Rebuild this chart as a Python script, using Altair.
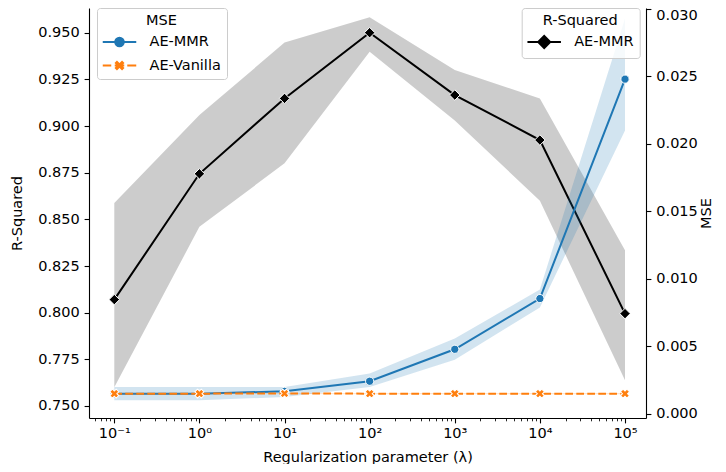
import math
import altair as alt
import pandas as pd

# ---------------- data ----------------
lambdas = [0.1, 1, 10, 100, 1000, 10000, 100000]
lambda_labels = ["10⁻¹", "10⁰", "10¹", "10²", "10³", "10⁴", "10⁵"]

r2_mmr = [0.807, 0.8744, 0.9148, 0.9500, 0.9166, 0.8925, 0.7995]
r2_mmr_low = [0.760, 0.846, 0.880, 0.9398, 0.903, 0.860, 0.7638]
r2_mmr_high = [0.8588, 0.9059, 0.9447, 0.9583, 0.930, 0.9148, 0.8335]

mse_mmr = [0.00148, 0.00148, 0.00165, 0.00240, 0.00477, 0.00853, 0.02480]
mse_mmr_low = [0.00099, 0.00099, 0.00123, 0.00197, 0.00400, 0.00787, 0.02100]
mse_mmr_high = [0.00197, 0.00197, 0.00197, 0.00297, 0.00556, 0.00920, 0.02930]

mse_vanilla = [0.00148, 0.00148, 0.00149, 0.00148, 0.00148, 0.00148, 0.00148]
mse_vanilla_low = [0.00144, 0.00144, 0.00145, 0.00144, 0.00144, 0.00144, 0.00144]
mse_vanilla_high = [0.00152, 0.00152, 0.00153, 0.00152, 0.00152, 0.00152, 0.00152]

series_names = ["AE-MMR", "AE-Vanilla"]
r2_ticks = [0.750, 0.775, 0.800, 0.825, 0.850, 0.875, 0.900, 0.925, 0.950]
mse_ticks = [0.000, 0.005, 0.010, 0.015, 0.020, 0.025, 0.030]

# ---------------- tables ----------------
r2_df = pd.DataFrame({
    "lam": lambdas, "r2": r2_mmr, "r2_lo": r2_mmr_low, "r2_hi": r2_mmr_high,
    "series": [series_names[0]] * len(lambdas),
})
mse_df = pd.concat([
    pd.DataFrame({"lam": lambdas, "mse": mse_mmr, "mse_lo": mse_mmr_low,
                  "mse_hi": mse_mmr_high, "series": series_names[0]}),
    pd.DataFrame({"lam": lambdas, "mse": mse_vanilla, "mse_lo": mse_vanilla_low,
                  "mse_hi": mse_vanilla_high, "series": series_names[1]}),
], ignore_index=True)

# ---------------- styling ----------------
FONT = "DejaVu Sans"
FS = 14.5
BLUE = "#1f77b4"
ORANGE = "#ff7f0e"
W, H = 557, 410

x_lo, x_hi = 10 ** -1.2972, 10 ** 5.2467
major = list(lambdas)
minor = []
for k in range(-2, 6):
    for m in range(2, 10):
        v = m * 10 ** k
        if x_lo <= v <= x_hi:
            minor.append(float(f"{v:.6g}"))
x_tick_values = sorted(major + minor)
major_test = "indexof([" + ",".join(str(v) for v in major) + "], datum.value) >= 0"
label_expr = " : ".join(f"datum.value == {v} ? '{l}'" for v, l in zip(major, lambda_labels)) + " : ''"

x_enc = alt.X(
    "lam:Q",
    scale=alt.Scale(type="log", domain=[x_lo, x_hi], nice=False),
    axis=alt.Axis(
        values=x_tick_values, labelExpr=label_expr, labelOverlap=False, labelFlush=False,
        tickSize={"condition": {"test": major_test, "value": 4.9}, "value": 2.8},
        tickWidth={"condition": {"test": major_test, "value": 1.1}, "value": 0.85},
        labelPadding=4, titlePadding=10, title="Regularization parameter (λ)",
    ),
)

r2_scale = alt.Scale(domain=[0.74357, 0.96324], nice=False, zero=False)
r2_axis = alt.Axis(orient="left", values=r2_ticks, format=".3f", title="R-Squared",
                   tickSize=4.9, tickWidth=1.1, labelPadding=4.9, titlePadding=13)
mse_scale = alt.Scale(domain=[-0.000326, 0.030074], nice=False, zero=False)
mse_axis = alt.Axis(orient="right", values=mse_ticks, format=".3f", title="MSE",
                    tickSize=4.9, tickWidth=1.1, labelPadding=4.9, titlePadding=2,
                    titleAngle=270, titleBaseline="top", labelFlush=3)

# ---------------- legend symbol paths (line + marker) ----------------
S = 8.0          # px per path unit for symbolSize 256
HALF = 16.75     # half length of the legend line in px


def u(px):
    return f"{px / S:.4f}"


def circle_path(r):
    return f"M{u(r)},0A{u(r)},{u(r)} 0 1,1 {u(-r)},0A{u(r)},{u(r)} 0 1,1 {u(r)},0Z"


def diamond_path(r):
    return f"M{u(-r)},0L0,{u(-r)}L{u(r)},0L0,{u(r)}Z"


def x_path(a, t):
    pts = [(-t, -a), (t, -a), (t, -t), (a, -t), (a, t), (t, t), (t, a), (-t, a),
           (-t, t), (-a, t), (-a, -t), (-t, -t)]
    c = math.cos(math.pi / 4)
    rot = [((x - y) * c, (x + y) * c) for x, y in pts]
    return "M" + "L".join(f"{u(x)},{u(y)}" for x, y in rot) + "Z"


solid_line = f"M{u(-HALF)},0L{u(HALF)},0"
dash_segs = [(0, 8.5), (12, 21.5), (24.5, 33.5)]
dashed_line = "".join(f"M{u(a - HALF)},0L{u(b - HALF)},0" for a, b in dash_segs)

mmr_symbol = solid_line + circle_path(4.3)
van_symbol = dashed_line + x_path(4.35, 0.75)
r2_symbol = solid_line + diamond_path(6.0)


def make_legend(title, lx):
    return alt.Legend(
        title=title, orient="none", legendX=lx, legendY=0,
        symbolSize=256, symbolStrokeWidth=2, symbolOffset=8, labelOffset=21,
        rowPadding=5.5, padding=5.5, titlePadding=5, titleAnchor="middle",
        titleFontWeight="normal", titleFontSize=FS, labelFontSize=FS,
        titleFont=FONT, labelFont=FONT, labelColor="black", titleColor="black",
        strokeColor="#cccccc", fillColor="rgba(255,255,255,0.8)", cornerRadius=3,
    )


# ---------------- R-squared group (left axis) ----------------
r2_base = alt.Chart(r2_df)
r2_band = r2_base.mark_area(color="black", opacity=0.2).encode(
    x=x_enc,
    y=alt.Y("r2_lo:Q", scale=r2_scale, axis=r2_axis, title="R-Squared"),
    y2="r2_hi:Q",
)
r2_line = r2_base.mark_line(color="black", strokeWidth=2).encode(
    x=x_enc, y=alt.Y("r2:Q", scale=r2_scale, axis=r2_axis, title="R-Squared"),
)
r2_pts = r2_base.mark_point(shape="diamond", filled=True, fill="black", stroke="white",
                            strokeWidth=1, size=110, opacity=1).encode(
    x=x_enc, y=alt.Y("r2:Q", scale=r2_scale, axis=r2_axis, title="R-Squared"),
)
leg_r2 = make_legend("R-Squared", 432.7)
r2_leg_layer = r2_base.mark_point(filled=True, size=256, opacity=1).encode(
    x=x_enc, y=alt.Y("r2:Q", scale=r2_scale, axis=r2_axis, title="R-Squared"),
    fill=alt.Fill("series:N", scale=alt.Scale(domain=[series_names[0]], range=["black"]), legend=leg_r2),
    stroke=alt.Stroke("series:N", scale=alt.Scale(domain=[series_names[0]], range=["black"]), legend=leg_r2),
    shape=alt.Shape("series:N", scale=alt.Scale(domain=[series_names[0]], range=[r2_symbol]), legend=leg_r2),
).transform_filter("false")

r2_group = alt.layer(r2_band, r2_line, r2_pts, r2_leg_layer)

# ---------------- MSE group (right axis) ----------------
mse_base = alt.Chart(mse_df)


def mse_y(field):
    return alt.Y(field, scale=mse_scale, axis=mse_axis, title="MSE")


mmr = mse_base.transform_filter(alt.datum.series == series_names[0])
van = mse_base.transform_filter(alt.datum.series == series_names[1])

mmr_band = mmr.mark_area(color=BLUE, opacity=0.2).encode(x=x_enc, y=mse_y("mse_lo:Q"), y2="mse_hi:Q")
mmr_line = mmr.mark_line(color=BLUE, strokeWidth=2).encode(x=x_enc, y=mse_y("mse:Q"))
mmr_pts = mmr.mark_point(shape="circle", filled=True, fill=BLUE, stroke="white", strokeWidth=1,
                         size=68, opacity=1).encode(x=x_enc, y=mse_y("mse:Q"))
van_band = van.mark_area(color=ORANGE, opacity=0.2).encode(x=x_enc, y=mse_y("mse_lo:Q"), y2="mse_hi:Q")
van_line = van.mark_line(color=ORANGE, strokeWidth=2, strokeDash=[7.7, 3.3]).encode(x=x_enc, y=mse_y("mse:Q"))
van_pts = van.mark_point(shape="cross", angle=45, filled=True, fill=ORANGE, stroke="white",
                         strokeWidth=1, size=80, opacity=1).encode(x=x_enc, y=mse_y("mse:Q"))

leg_mse = make_legend("MSE", 8)
mse_leg_layer = mse_base.mark_point(filled=True, size=256, opacity=1).encode(
    x=x_enc, y=mse_y("mse:Q"),
    fill=alt.Fill("series:N", scale=alt.Scale(domain=series_names, range=[BLUE, ORANGE]), legend=leg_mse),
    stroke=alt.Stroke("series:N", scale=alt.Scale(domain=series_names, range=[BLUE, ORANGE]), legend=leg_mse),
    shape=alt.Shape("series:N", scale=alt.Scale(domain=series_names, range=[mmr_symbol, van_symbol]), legend=leg_mse),
).transform_filter("false")

mse_group = alt.layer(mmr_band, mmr_line, mmr_pts, van_band, van_line, van_pts, mse_leg_layer)

chart = alt.layer(r2_group, mse_group).resolve_scale(
    y="independent", fill="independent", stroke="independent", shape="independent"
).properties(
    width=W, height=H,
    autosize=alt.AutoSizeParams(type="none"),
    padding={"left": 81, "top": 0, "right": 72, "bottom": 46},
    background="white",
).configure_view(stroke=None).configure_axis(
    grid=False, domainColor="black", domainWidth=1.1, tickColor="black",
    labelColor="black", titleColor="black", labelFont=FONT, titleFont=FONT,
    labelFontSize=FS, titleFontSize=FS, titleFontWeight="normal",
).configure_legend(strokeWidth=1)

chart.save("out.html", embed_options={"renderer": "svg", "actions": False})
